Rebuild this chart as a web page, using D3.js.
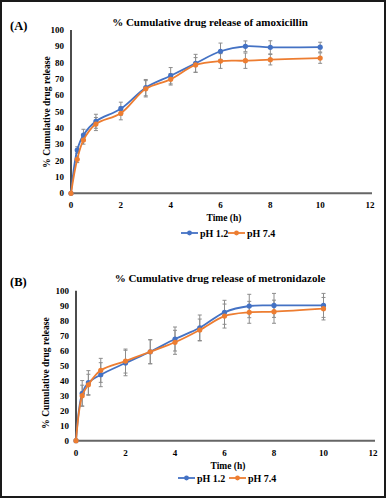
<!DOCTYPE html>
<html lang="en">

<head>
    <meta charset="UTF-8">
    <title>Cumulative drug release</title>
    <script src="https://cdnjs.cloudflare.com/ajax/libs/d3/7.8.5/d3.min.js"></script>
    <style>
        body {
            margin: 0;
            background: white;
        }

        svg {
            display: block;
            font-family: "Liberation Serif", "Times New Roman", serif;
            font-weight: bold;
        }

        .tick-label {
            font-size: 9px;
        }

        .err {
            stroke: #8c8c8c;
            stroke-width: 1;
        }
    </style>
</head>

<body>
    <div class="diagram"></div>
    <script>
        // sampling times (h)
        const times = [0, 0.25, 0.5, 1, 2, 3, 4, 5, 6, 7, 8, 10];
        const xTicks = [0, 2, 4, 6, 8, 10, 12];
        const yTicks = [0, 10, 20, 30, 40, 50, 60, 70, 80, 90, 100];
        const seriesNames = ['pH 1.2', 'pH 7.4'];

        // amoxicillin
        const amoxPh12 = [0, 26.5, 35.7, 44.1, 51.8, 64.7, 72.0, 79.6, 87.0, 90.0, 89.4, 89.5];
        const amoxPh12Err = [0, 2, 3.5, 4.3, 4, 5, 5, 5.5, 5, 3.3, 4, 3];
        const amoxPh74 = [0, 20.8, 32.6, 42.4, 49.0, 64.0, 69.8, 78.6, 81.0, 81.2, 81.8, 82.8];
        const amoxPh74Err = [0, 2, 2.5, 4, 4, 5, 3.5, 4.5, 4.5, 4.7, 3.2, 3.2];

        // metronidazole
        const metroPh12 = [0, 31.6, 38.7, 44.0, 51.8, 59.3, 67.8, 75.3, 85.6, 89.8, 90.2, 90.2];
        const metroPh12Err = [0, 8.5, 8, 8, 8.5, 8, 8, 8.5, 8, 7.8, 8, 8];
        const metroPh74 = [0, 30.0, 37.3, 46.9, 53.1, 59.3, 65.6, 73.8, 83.1, 85.6, 86.0, 88.0];
        const metroPh74Err = [0, 7, 7, 8, 8, 8, 8, 7.3, 8, 7.3, 7.7, 7.5];

        const colors = ['#4472c4', '#ed7d31'];
        const W = 386, H = 498;

        const svg = d3.select('.diagram')
            .append('svg')
            .attr('width', W)
            .attr('height', H);

        // outer frame
        svg.append('rect')
            .attr('x', 1).attr('y', 1)
            .attr('width', W - 2).attr('height', H - 2)
            .attr('fill', 'none')
            .attr('stroke', '#1a1a1a')
            .attr('stroke-width', 2);

        function drawPanel(p) {
            const g = svg.append('g');
            const x = d3.scaleLinear().domain([0, 12]).range([p.left, p.right]);
            const y = d3.scaleLinear().domain([0, 100]).range([p.bottom, p.top]);

            g.append('text')
                .attr('x', 10).attr('y', p.labelY)
                .attr('font-size', 12.5)
                .text(p.label);

            g.append('text')
                .attr('x', p.titleX).attr('y', p.titleY)
                .attr('text-anchor', 'middle')
                .attr('font-size', 11)
                .text(p.title);

            // y tick labels
            g.selectAll('.ytl')
                .data(yTicks)
                .enter()
                .append('text')
                .attr('class', 'tick-label')
                .attr('x', p.left - 7)
                .attr('y', d => y(d) + 3)
                .attr('text-anchor', 'end')
                .text(d => d);

            // x tick labels
            g.selectAll('.xtl')
                .data(xTicks)
                .enter()
                .append('text')
                .attr('class', 'tick-label')
                .attr('x', d => x(d))
                .attr('y', p.bottom + 15)
                .attr('text-anchor', 'middle')
                .text(d => d);

            // axes
            g.append('line')
                .attr('x1', p.left).attr('x2', p.left)
                .attr('y1', p.top).attr('y2', p.bottom)
                .attr('stroke', '#111').attr('stroke-width', 1.5);
            g.append('line')
                .attr('x1', p.left).attr('x2', p.right + 2)
                .attr('y1', p.bottom).attr('y2', p.bottom)
                .attr('stroke', '#666').attr('stroke-width', 2);

            // axis titles
            g.append('text')
                .attr('transform', 'translate(' + p.yTitleX + ',' + p.yTitleY + ') rotate(-90)')
                .attr('text-anchor', 'middle')
                .attr('font-size', 9.5)
                .text('% Cumulative drug release');
            g.append('text')
                .attr('x', p.xTitleX).attr('y', p.xTitleY)
                .attr('text-anchor', 'middle')
                .attr('font-size', 9.5)
                .text('Time (h)');

            const line = d3.line()
                .x((d, i) => x(times[i]))
                .y(d => y(d))
                .curve(d3.curveCatmullRom.alpha(0.5));

            p.series.forEach(function(s, k) {
                const pts = s.values.map((v, i) => ({ t: times[i], v: v, e: s.err[i] }));
                const eb = g.append('g');
                eb.selectAll('.ev')
                    .data(pts.filter(d => d.e > 0))
                    .enter()
                    .append('line')
                    .attr('class', 'err')
                    .attr('x1', d => x(d.t)).attr('x2', d => x(d.t))
                    .attr('y1', d => y(d.v - d.e)).attr('y2', d => y(d.v + d.e));
                ['top', 'bot'].forEach(function(side) {
                    eb.selectAll('.cap-' + side)
                        .data(pts.filter(d => d.e > 0))
                        .enter()
                        .append('line')
                        .attr('class', 'err')
                        .attr('x1', d => x(d.t) - 2).attr('x2', d => x(d.t) + 2)
                        .attr('y1', d => y(side == 'top' ? d.v + d.e : d.v - d.e))
                        .attr('y2', d => y(side == 'top' ? d.v + d.e : d.v - d.e));
                });
            });

            p.series.forEach(function(s, k) {
                g.append('path')
                    .datum(s.values)
                    .attr('d', line)
                    .attr('fill', 'none')
                    .attr('stroke', colors[k])
                    .attr('stroke-width', 1.8);
                g.selectAll('.m' + k)
                    .data(s.values)
                    .enter()
                    .append('circle')
                    .attr('cx', (d, i) => x(times[i]))
                    .attr('cy', d => y(d))
                    .attr('r', 2.6)
                    .attr('fill', colors[k]);
            });

            // legend
            seriesNames.forEach(function(name, k) {
                const lx = p.legendX[k];
                g.append('line')
                    .attr('x1', lx).attr('x2', lx + 17)
                    .attr('y1', p.legendY).attr('y2', p.legendY)
                    .attr('stroke', colors[k]).attr('stroke-width', 1.8);
                g.append('circle')
                    .attr('cx', lx + 8.5).attr('cy', p.legendY)
                    .attr('r', 2.4).attr('fill', colors[k]);
                g.append('text')
                    .attr('x', lx + 19).attr('y', p.legendY + 3.5)
                    .attr('font-size', 10)
                    .text(name);
            });
        }

        drawPanel({
            label: '(A)', labelY: 30,
            title: '% Cumulative drug release of amoxicillin', titleX: 210, titleY: 26,
            left: 71, right: 370, top: 30, bottom: 193.3,
            yTitleX: 50, yTitleY: 112,
            xTitleX: 224, xTitleY: 221,
            legendX: [181, 228], legendY: 233,
            series: [
                { values: amoxPh12, err: amoxPh12Err },
                { values: amoxPh74, err: amoxPh74Err }
            ]
        });

        drawPanel({
            label: '(B)', labelY: 286,
            title: '% Cumulative drug release of metronidazole', titleX: 220, titleY: 282,
            left: 76, right: 373, top: 290.7, bottom: 440.7,
            yTitleX: 49, yTitleY: 373,
            xTitleX: 228, xTitleY: 469,
            legendX: [178, 229], legendY: 478,
            series: [
                { values: metroPh12, err: metroPh12Err },
                { values: metroPh74, err: metroPh74Err }
            ]
        });
    </script>
</body>

</html>
